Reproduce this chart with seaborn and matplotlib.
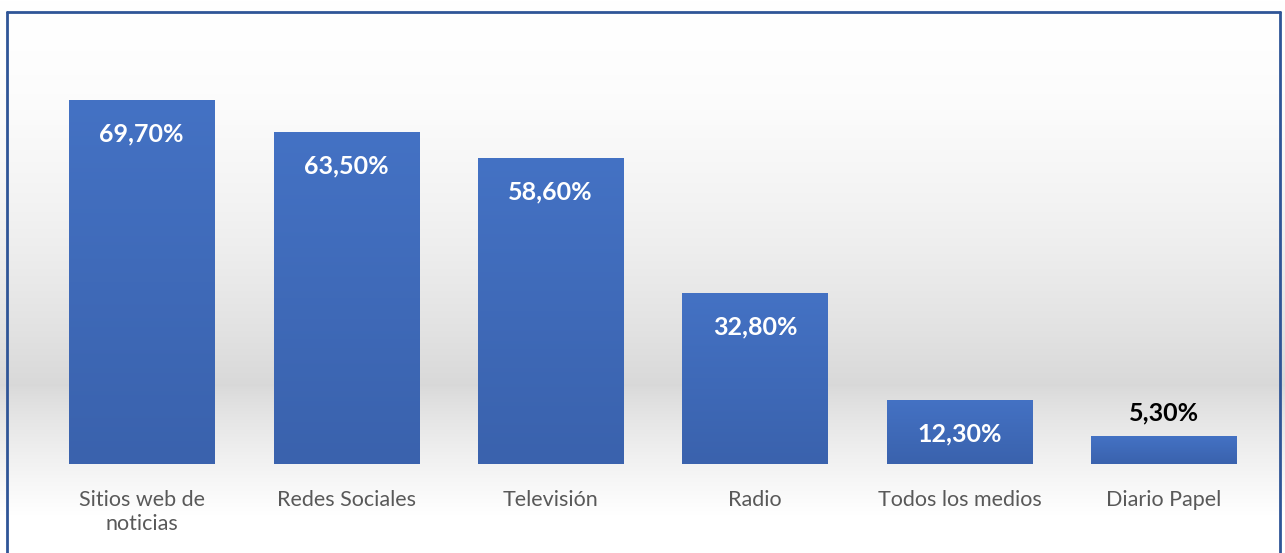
import numpy as np
import pandas as pd
import matplotlib
matplotlib.use("Agg")
import matplotlib.pyplot as plt
import seaborn as sns
from matplotlib.colors import LinearSegmentedColormap
from matplotlib.lines import Line2D

categories = ["Sitios web de\nnoticias", "Redes Sociales", "Televisión", "Radio",
              "Todos los medios", "Diario Papel"]
values = [69.7, 63.5, 58.6, 32.8, 12.3, 5.3]
labels = ["69,70%", "63,50%", "58,60%", "32,80%", "12,30%", "5,30%"]

sns.set_theme(style="white")
plt.rcParams['font.family'] = ['Lato', 'DejaVu Sans']

fig = plt.figure(figsize=(12.85, 5.53), dpi=100)

# background gradient (figure level)
bg = fig.add_axes([0, 0, 1, 1], zorder=-10)
bg.set_axis_off()
px = np.arange(553)  # 0 = top
def shade(p):
    if p < 385:
        t = p / 385
        return 1.0 - 0.15 * t ** 1.8
    else:
        t = min((p - 385) / 130, 1)
        return 0.85 + 0.15 * t ** 0.8
col = np.array([shade(p) for p in px])
img = np.repeat(col[:, None], 2, axis=1)
img = np.dstack([img, img, img])
bg.imshow(img, aspect="auto", extent=[0, 1, 0, 1], origin="upper")
bg.set_xlim(0, 1); bg.set_ylim(0, 1)

ax = fig.add_axes([39.5 / 1285, (553 - 464) / 553, (1266 - 39.5) / 1285, (464 - 46) / 553])
ax.patch.set_alpha(0)
df = pd.DataFrame({"cat": categories, "val": values})
sns.barplot(data=df, x="cat", y="val", ax=ax, color="#4472C4", saturation=1,
            width=0.71, linewidth=0, edgecolor="none")

cmap = LinearSegmentedColormap.from_list("bar", ["#3A62AD", "#4472C4"])
grad = np.linspace(0, 1, 256).reshape(-1, 1)
for p in ax.patches:
    x0, w, h = p.get_x(), p.get_width(), p.get_height()
    im = ax.imshow(grad, cmap=cmap, aspect="auto", origin="lower",
                   extent=[x0, x0 + w, 0, h], zorder=p.get_zorder() + 0.1)
    im.set_clip_path(p)
ax.set_xlim(-0.5, 5.5)
ax.set_ylim(0, 80)

for i, (v, lab) in enumerate(zip(values, labels)):
    if v > 10:
        ax.annotate(lab, (i, v), xytext=(0, -34), textcoords="offset pixels",
                    ha="center", va="center", color="white", fontsize=18,
                    fontweight="bold", zorder=5)
    else:
        ax.annotate(lab, (i, v), xytext=(0, 23), textcoords="offset pixels",
                    ha="center", va="center", color="black", fontsize=18,
                    fontweight="bold", zorder=5)

ax.set_xlabel("")
ax.set_ylabel("")
ax.set_yticks([])
ax.tick_params(axis="x", length=0, pad=19, labelsize=15.5, labelcolor="#595959")
for s in ax.spines.values():
    s.set_visible(False)

# border
bc = "#2F5597"
fig.add_artist(Line2D([7 / 1285, 7 / 1285], [0, 1 - 12 / 553], transform=fig.transFigure, color=bc, lw=2))
fig.add_artist(Line2D([7 / 1285, 1280 / 1285], [1 - 12 / 553, 1 - 12 / 553], transform=fig.transFigure, color=bc, lw=2))
fig.add_artist(Line2D([1280 / 1285, 1280 / 1285], [0, 1 - 12 / 553], transform=fig.transFigure, color=bc, lw=2))

fig.savefig("out.png", dpi=100)
